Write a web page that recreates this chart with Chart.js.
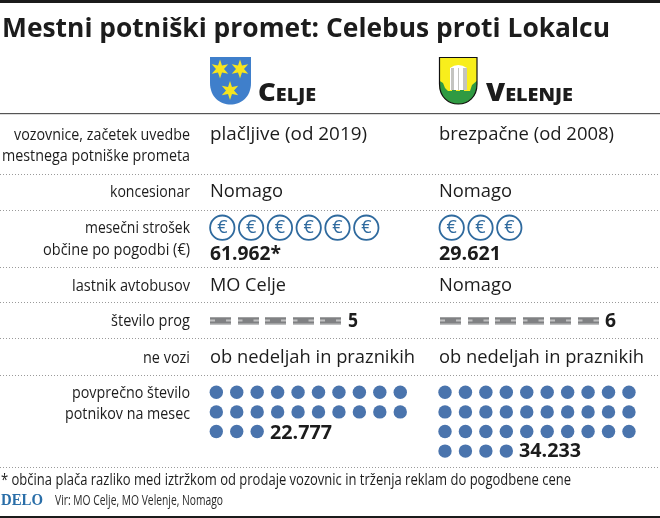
<!DOCTYPE html>
<html><head><meta charset="utf-8">
<style>html,body{margin:0;padding:0;background:#fff}canvas{display:block}</style>
<script src="https://cdn.jsdelivr.net/npm/chart.js@4/dist/chart.umd.min.js"></script>
</head><body><canvas id="c" width="660" height="518"></canvas>
<script>
// ---- data ----
const cities = ["Celje", "Velenje"];
const rowLabels = [
  ["vozovnice, začetek uvedbe", "mestnega potniške prometa"],
  ["koncesionar"],
  ["mesečni strošek", "občine po pogodbi (€)"],
  ["lastnik avtobusov"],
  ["število prog"],
  ["ne vozi"],
  ["povprečno število", "potnikov na mesec"]
];
const tickets = ["plačljive (od 2019)", "brezpačne (od 2008)"];
const concessionaires = ["Nomago", "Nomago"];
const monthlyCost = ["61.962*", "29.621"];
const costCoins = [6, 3];
const busOwners = ["MO Celje", "Nomago"];
const routes = [5, 6];
const noService = ["ob nedeljah in praznikih", "ob nedeljah in praznikih"];
const passengers = ["22.777", "34.233"];
const passengerDots = [23, 34];
const title = "Mestni potniški promet: Celebus proti Lokalcu";
const footnote = "* občina plača razliko med iztržkom od prodaje vozovnic in trženja reklam do pogodbene cene";
const brand = "DELO";
const source = "Vir: MO Celje, MO Velenje, Nomago";

// ---- layout ----
const INK = "#1c1c1c", SANS = '"Open Sans"', BLUE = "#2f6a9e", DOT = "#4a74ad";
const colX = [210, 439];
const dotGrid = {x:[216.3, 445], y:392.3, dx:20.44, dy:19.6, perRow:10};
const coinGrid = {x:[222.3, 451.7], y:227.7, dx:28.8};
const roadGrid = {x:[220.5, 450.5], y:320.5, dx:27.5};
const dividers = [174, 210, 267, 302, 338, 375, 467];

function range(n){ return Array.from({length:n},(_,i)=>i); }
const dotPoints = passengerDots.map((n,c)=>range(n).map(i=>({
  x: dotGrid.x[c] + (i % dotGrid.perRow) * dotGrid.dx,
  y: dotGrid.y + Math.floor(i / dotGrid.perRow) * dotGrid.dy })));
const coinPoints = costCoins.map((n,c)=>range(n).map(i=>({x:coinGrid.x[c]+i*coinGrid.dx, y:coinGrid.y})));
const roadPoints = routes.map((n,c)=>range(n).map(i=>({x:roadGrid.x[c]+i*roadGrid.dx, y:roadGrid.y})));

function roadIcon(){
  const k = document.createElement("canvas"); k.width = 21; k.height = 8;
  const g = k.getContext("2d");
  g.fillStyle = "#808183"; g.fillRect(0,0.5,21,7);
  g.fillStyle = "#ececec"; g.fillRect(0,3.4,5,1.2); g.fillRect(16,3.4,5,1.2);
  return k;
}
const road = roadIcon();

// ---- drawing helpers ----
function txt(ctx, s, x, y, w, font, color, align){
  ctx.save();
  ctx.font = font; ctx.fillStyle = color || INK; ctx.textBaseline = "alphabetic"; ctx.textAlign = "left";
  const m = ctx.measureText(s).width;
  const left = align === "right" ? x - w : x;
  ctx.translate(left, y); ctx.scale(w / m, 1);
  ctx.fillText(s, 0, 0);
  ctx.restore();
}
function star(ctx, cx, cy, R, r, n){
  ctx.beginPath();
  for(let i=0;i<n*2;i++){
    const a = -Math.PI/2 + i*Math.PI/n, q = i%2?r:R;
    ctx.lineTo(cx+q*Math.cos(a), cy+q*Math.sin(a));
  }
  ctx.closePath(); ctx.fill();
}
function shield(ctx, x0, x1, y0, y1, yShoulder){
  const cx=(x0+x1)/2;
  ctx.beginPath();
  ctx.moveTo(x0,y0); ctx.lineTo(x1,y0); ctx.lineTo(x1,yShoulder);
  ctx.bezierCurveTo(x1,y1-7,cx+10,y1,cx,y1);
  ctx.bezierCurveTo(cx-10,y1,x0,y1-7,x0,yShoulder);
  ctx.closePath();
}
function crests(ctx){
  // Celje
  ctx.save();
  shield(ctx,210,251,57,104.5,83); ctx.fillStyle="#3f7fcb"; ctx.fill();
  ctx.fillStyle="#f6e51e";
  star(ctx,220,69,9.5,4,6); star(ctx,240,69,9.5,4,6); star(ctx,230,90.5,9.5,4,6);
  ctx.restore();
  // Velenje
  ctx.save();
  shield(ctx,439.5,477,57.5,104,84); ctx.fillStyle="#f8ee1c"; ctx.fill();
  ctx.save(); ctx.clip();
  ctx.fillStyle="#2f9a42";
  ctx.beginPath();
  ctx.moveTo(438,80); ctx.lineTo(443,83); ctx.lineTo(445,88); ctx.lineTo(448,91); ctx.lineTo(452,91); ctx.lineTo(452,89);
  ctx.lineTo(456,89); ctx.lineTo(456,91); ctx.lineTo(460,91); ctx.lineTo(460,89); ctx.lineTo(464,89); ctx.lineTo(464,91);
  ctx.lineTo(470,91); ctx.lineTo(472,85); ctx.lineTo(478,80); ctx.lineTo(478,106); ctx.lineTo(438,106); ctx.closePath(); ctx.fill();
  ctx.fillStyle="#fff";
  ctx.beginPath(); ctx.moveTo(450,90); ctx.lineTo(450,68); ctx.quadraticCurveTo(458,62,467,68); ctx.lineTo(467,90); ctx.closePath(); ctx.fill();
  ctx.fillStyle="#c4c4c0"; ctx.fillRect(451,68,3,22); ctx.fillRect(463,68,4,22); ctx.fillRect(458,68,1,22);
  ctx.restore();
  shield(ctx,439.5,477,57.5,104,84); ctx.strokeStyle="#111"; ctx.lineWidth=1.2; ctx.stroke();
  ctx.restore();
}

// ---- the page furniture and labels ----
const furniture = {
  id:"furniture",
  beforeDatasetsDraw(chart){
    const c = chart.ctx;
    c.save();
    c.fillStyle="#1b1b1b"; c.fillRect(0,0,660,3); c.fillRect(0,516,660,2);
    c.fillStyle="#555"; c.fillRect(0,113,660,1.2);
    c.strokeStyle="#9a9a9a"; c.lineWidth=1; c.setLineDash([1,2]);
    dividers.forEach(y=>{ c.beginPath(); c.moveTo(0,y+.5); c.lineTo(660,y+.5); c.stroke(); });
    c.restore();
    crests(c);
  },
  afterDatasetsDraw(chart){
    const c = chart.ctx;
    const L = '400 17px '+SANS, V='400 18.5px '+SANS, B='700 19px '+SANS;
    txt(c,title,2,37,608,'700 27px '+SANS);
    txt(c,cities[0],258,101,58,'small-caps 800 25px '+SANS);
    txt(c,cities[1],486,101,87,'small-caps 800 25px '+SANS);
    // row labels
    const R=190, lab=[[140,176],[161,188],[197,80],[233,105],[255,147],[291,118],[326,79],[363,47],[398,118],[419,125]];
    rowLabels.flat().forEach((s,i)=>txt(c,s,R,lab[i][0],lab[i][1],L,INK,"right"));
    // values
    const w=[[157,175],[73,73],[71,62],[76,73],[205,205]];
    cities.forEach((_,k)=>{
      txt(c,tickets[k],colX[k],140,w[0][k],V);
      txt(c,concessionaires[k],colX[k],197,w[1][k],V);
      txt(c,monthlyCost[k],colX[k],260,w[2][k],B);
      txt(c,busOwners[k],colX[k],291,w[3][k],V);
      txt(c,noService[k],colX[k],363,w[4][k],V);
    });
    txt(c,String(routes[0]),348,327,10,'700 19px '+SANS);
    txt(c,String(routes[1]),605,327,11,'700 19px '+SANS);
    txt(c,passengers[0],270,439,62,B);
    txt(c,passengers[1],519,457,62,B);
    // euro marks on the coins
    chart.data.datasets.forEach((d,i)=>{
      if(!d.isCoin) return;
      chart.getDatasetMeta(i).data.forEach(p=>{
        c.save(); c.font='400 18px '+SANS; c.fillStyle=BLUE; c.textAlign="center"; c.textBaseline="middle";
        c.fillText("€",p.x,p.y+.5); c.restore();
      });
    });
    txt(c,footnote,1,485,570,'400 16.5px '+SANS);
    txt(c,brand,1,505,42,'700 16px "Liberation Serif"',"#2a6ea8");
    txt(c,source,55,505,168,'400 14px '+SANS,"#2a2a2a");
  }
};

const dotSets = dotPoints.map((pts,k)=>({label:"Potniki "+cities[k],data:pts,pointStyle:"circle",pointRadius:6.7,pointHoverRadius:6.7,backgroundColor:DOT,borderWidth:0,showLine:false}));
const coinSets = coinPoints.map((pts,k)=>({label:"Strošek "+cities[k],data:pts,isCoin:true,pointStyle:"circle",pointRadius:12.2,pointHoverRadius:12.2,backgroundColor:"#fff",borderColor:BLUE,borderWidth:1.8,showLine:false}));
const roadSets = roadPoints.map((pts,k)=>({label:"Proge "+cities[k],data:pts,pointStyle:road,showLine:false}));

new Chart(document.getElementById("c"),{
  type:"scatter",
  data:{datasets:[...dotSets,...coinSets,...roadSets]},
  plugins:[furniture],
  options:{
    responsive:false, animation:false, devicePixelRatio:1,
    layout:{padding:0,autoPadding:false},
    events:[],
    plugins:{legend:{display:false},tooltip:{enabled:false},title:{display:false}},
    scales:{
      x:{type:"linear",display:false,min:0,max:660},
      y:{type:"linear",display:false,min:0,max:518,reverse:true}
    }
  }
});
</script></body></html>
